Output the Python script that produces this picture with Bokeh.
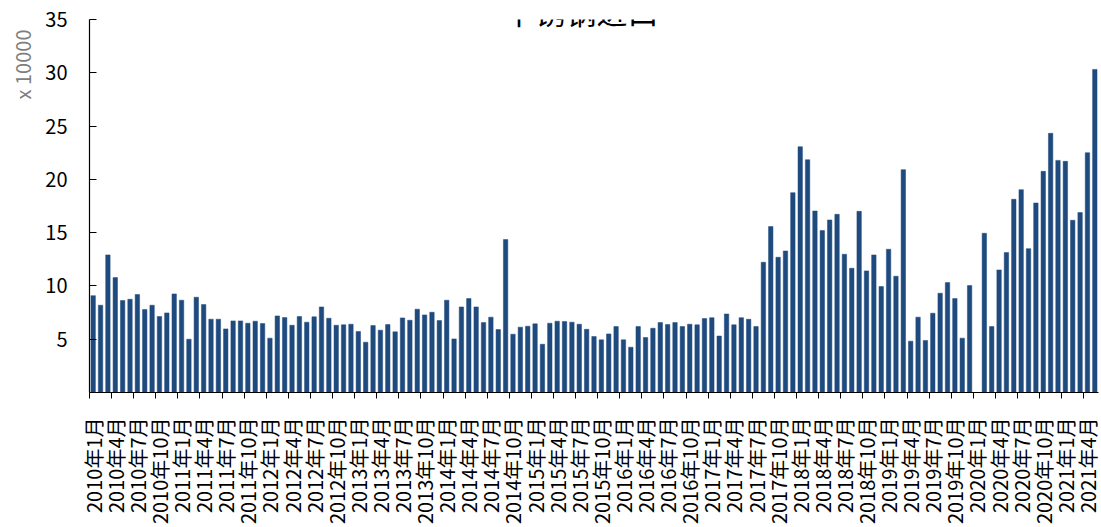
import math
import numpy as np
from bokeh.plotting import figure
from bokeh.models import Range1d, FixedTicker, CustomJSTickFormatter, Label, Title, ColumnDataSource
from bokeh.embed import file_html
from bokeh.resources import INLINE

# ---- data (x 10000 tonnes), 2010-01 .. 2021-05 ----
years = list(range(2010, 2022))
months = [f"{y}年{m}月" for y in years for m in range(1, 13)][:137]

imports = [
    9.09, 8.19, 12.91, 10.78, 8.63, 8.75, 9.19, 7.78, 8.19, 7.13, 7.47, 9.25,      # 2010
    8.66, 5.00, 8.94, 8.25, 6.88, 6.88, 5.97, 6.72, 6.72, 6.50, 6.69, 6.47,        # 2011
    5.10, 7.19, 7.03, 6.31, 7.13, 6.60, 7.10, 8.03, 6.97, 6.31, 6.35, 6.41,        # 2012
    5.72, 4.72, 6.28, 5.85, 6.38, 5.69, 7.00, 6.78, 7.82, 7.28, 7.53, 6.75,        # 2013
    8.66, 5.03, 8.03, 8.81, 8.03, 6.56, 7.07, 5.91, 14.35, 5.47, 6.13, 6.22,       # 2014
    6.44, 4.53, 6.50, 6.69, 6.66, 6.60, 6.41, 5.93, 5.25, 4.94, 5.50, 6.19,        # 2015
    4.94, 4.25, 6.19, 5.16, 6.03, 6.56, 6.38, 6.56, 6.19, 6.41, 6.35, 6.94,        # 2016
    7.02, 5.30, 7.37, 6.35, 7.02, 6.87, 6.19, 12.22, 15.57, 12.69, 13.28, 18.75,   # 2017
    23.06, 21.84, 17.03, 15.19, 16.19, 16.72, 12.97, 11.66, 17.00, 11.41, 12.91, 9.94,  # 2018
    13.44, 10.91, 20.91, 4.82, 7.07, 4.88, 7.44, 9.32, 10.31, 8.81, 5.10, 10.03,   # 2019
    None, 14.94, 6.19, 11.50, 13.13, 18.13, 19.03, 13.50, 17.78, 20.75, 24.32, 21.78,  # 2020
    21.69, 16.16, 16.88, 22.50, 30.32,                                              # 2021
]

y_ticks = [5, 10, 15, 20, 25, 30, 35]
title_text = "不锈钢进口"
unit_text = "x 10000"

FONT = "Noto Sans CJK SC"
BAR = "#1F4A7E"

idx = np.arange(len(months))
vals = np.array([np.nan if v is None else v for v in imports], dtype=float)
src = ColumnDataSource(dict(x=idx[~np.isnan(vals)], top=vals[~np.isnan(vals)]))

p = figure(width=1101, height=527,
           x_range=Range1d(-0.5, len(months) - 0.5), y_range=Range1d(0, 35),
           output_backend="svg", toolbar_location=None,
           min_border_left=88, min_border_right=3,
           min_border_top=19, min_border_bottom=134)
p.outline_line_color = None
p.xgrid.visible = False
p.ygrid.visible = False
p.background_fill_color = "white"
p.border_fill_color = "white"

p.vbar(x="x", top="top", width=0.6, source=src, fill_color=BAR, line_color=BAR, line_width=0.5)

# x axis: labels at every third month, tick marks between categories
xa = p.xaxis[0]
label_pos = list(range(0, len(months), 3))
xa.ticker = FixedTicker(ticks=label_pos, minor_ticks=[i - 0.5 for i in label_pos])
xa.formatter = CustomJSTickFormatter(args=dict(labels=months),
                                     code="const i = Math.round(tick); return labels[i] || '';")
xa.major_label_orientation = math.pi / 2
xa.major_label_text_font = FONT
xa.major_label_text_font_size = "20px"
xa.major_label_text_color = "black"
xa.major_label_standoff = 19
xa.major_tick_line_color = None
xa.major_tick_in = 0
xa.major_tick_out = 0
xa.minor_tick_line_color = "black"
xa.minor_tick_line_width = 1
xa.minor_tick_in = 0
xa.minor_tick_out = 6
xa.axis_line_color = "black"
xa.axis_line_width = 1.2

# y axis
ya = p.yaxis[0]
ya.ticker = FixedTicker(ticks=y_ticks)
ya.major_label_text_font = FONT
ya.major_label_text_font_size = "20px"
ya.major_label_text_color = "black"
ya.major_label_standoff = 22
ya.major_tick_in = 7
ya.major_tick_out = 0
ya.major_tick_line_color = "black"
ya.minor_tick_line_color = None
ya.axis_line_color = "black"
ya.axis_line_width = 1.2

# unit label, vertical at the top-left
p.add_layout(Title(text=unit_text, align="right", offset=10, standoff=11,
                   text_font=FONT, text_font_size="20px", text_font_style="normal",
                   text_color="#7F7F7F"), "left")

# title, partly above the top edge as in the reference
p.add_layout(Label(x=66.24, y=35.84, text=title_text,
                   text_align="center", text_baseline="alphabetic",
                   text_font=FONT, text_font_size="31px", text_color="black"))

open("out.html", "w").write(file_html(p, INLINE))
